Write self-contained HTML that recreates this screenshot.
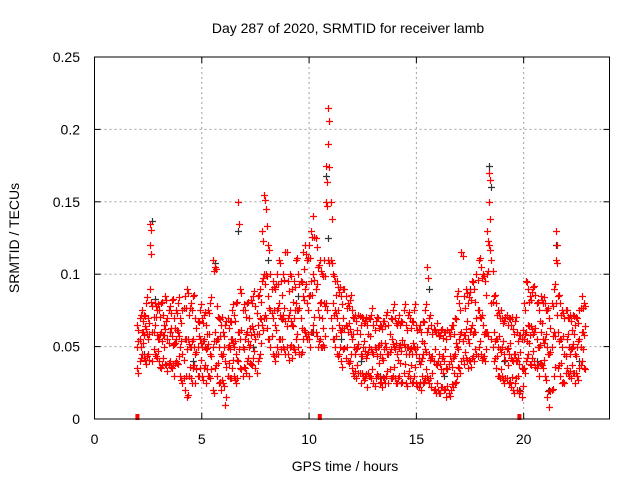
<!DOCTYPE html>
<html><head><meta charset="utf-8"><style>
body{margin:0;background:#fff;}
svg{display:block;font-family:"Liberation Sans",sans-serif;}
</style></head><body>
<svg id="chart" width="640" height="480">
<rect width="640" height="480" fill="#fff"/>
<text x="348" y="33" font-size="14" text-anchor="middle">Day 287 of 2020, SRMTID for receiver lamb</text>
<text x="345" y="471" font-size="14" text-anchor="middle">GPS time / hours</text>
<text transform="translate(19,238) rotate(-90)" font-size="14" text-anchor="middle">SRMTID / TECUs</text>
<g id="grid"></g>
<g id="marks"></g>
<g id="axes"></g>
</svg>
<script>
const xTicks=[0,5,10,15,20];
const yTicks=[0,0.05,0.1,0.15,0.2,0.25];
const yTickLabels=["0","0.05","0.1","0.15","0.2","0.25"];
const redStart=2.0, redStep=0.1;
const redA=[50,55,60,58,62,55,90,60,65,58, 55,60,58,62,55,60,57,52,55,60, 50,45,55,48,52,50,55,45,50,55, 50,55,48,52,45,50,60,55,50,45, 45,40,50,48,55,50,45,60,55,50, 55,60,50,58,62,55,65,70,95,100, 100,85,75,70,65,75,80,70,72,68, 70,75,65,70,80,75,70,85,90,80, 85,95,100,90,75,80,70,80,150,190, 110,80,75,70,65,60,70,65,60,62, 55,50,48,52,45,50,47,45,50,48, 45,48,50,45,42,48,50,45,48,52, 48,45,50,47,52,45,50,48,45,50, 45,42,40,45,48,60,45,42,40,38, 40,38,42,40,35,38,40,42,45,50, 55,60,58,62,55,60,65,60,70,75, 70,65,60,100,150,80,60,55,50,48, 50,45,48,45,42,40,45,40,38,35, 55,60,65,58,62,60,55,50,60,55, 55,50,45,50,60,110,60,55,50,45, 55,50,48,52,45,50,55,60,58];
const redB=[35,40,45,42,38,45,120,40,45,42, 40,35,42,38,33,40,35,30,40,38, 30,25,20,15,30,28,35,25,30,35, 30,35,25,30,28,20,35,30,25,20, 25,10,30,28,35,30,25,40,35,30, 35,40,30,38,42,35,40,45,65,70, 70,55,50,45,40,50,55,48,50,45, 45,50,42,48,55,50,45,55,60,55, 55,60,65,60,50,55,50,50,80,110, 70,55,50,45,45,40,48,42,40,40, 35,30,28,32,25,30,28,22,30,28, 25,28,30,25,22,28,30,25,28,30, 28,25,30,25,32,25,30,28,25,30, 25,22,20,25,28,30,25,22,20,18, 20,18,22,20,15,18,20,22,25,30, 35,40,38,42,35,40,42,40,45,50, 45,42,40,60,120,55,40,35,30,28, 30,25,28,25,22,20,25,20,18,15, 35,40,45,38,42,40,35,30,38,35, 30,15,8,20,30,80,35,30,25,25, 35,30,28,32,25,30,35,40,35];
const redC=[65,70,75,72,80,70,135,78,80,75, 75,80,72,85,70,78,82,70,75,80, 70,75,85,90,72,80,85,70,68,75, 70,72,65,75,80,110,105,78,70,65, 60,65,70,68,75,72,80,150,90,75, 75,80,70,82,85,78,85,90,130,155, 145,120,100,95,90,100,110,95,100,115, 95,100,90,95,110,100,95,115,120,110, 120,130,140,125,105,110,100,110,175,215, 150,100,95,95,88,85,90,85,80,82, 75,70,68,72,65,70,68,65,70,72, 65,68,70,65,62,68,72,65,70,75, 70,65,72,68,75,65,72,70,68,75, 65,62,60,68,75,105,70,65,62,60, 60,58,62,60,55,60,62,65,70,85, 80,115,85,90,80,88,95,90,100,110, 105,100,95,130,170,110,85,80,75,70, 70,68,72,70,65,62,68,60,58,55, 80,95,90,85,88,92,80,75,85,80, 80,75,70,80,90,130,85,80,75,70, 75,70,68,72,65,70,75,85,80];
const blackTimes=[2.3,2.7,2.8,3.5,4.6,5.6,6.2,6.7,7.4,8.1,8.8,9.5,10.2,10.8,10.9,11.5,12.4,13.3,14.2,15.1,15.6,16.3,17.5,18.2,18.4,18.5,19.1,19.8,20.6,21.2,21.5,22.1,22.6];
const blackVals=[0.045,0.137,0.083,0.06,0.04,0.108,0.03,0.13,0.05,0.11,0.07,0.085,0.06,0.168,0.125,0.055,0.04,0.03,0.05,0.04,0.09,0.03,0.09,0.06,0.175,0.16,0.04,0.02,0.04,0.02,0.12,0.05,0.04];
const markerTimes=[2.0,10.5,19.8];

const X0=94.5,X1=609.5,Y0=419,Y1=57,XMAX=24,YMAX=0.25;
const xs=t=>X0+(X1-X0)*t/XMAX;
const ys=v=>Y0-(Y0-Y1)*v/YMAX;
const NS="http://www.w3.org/2000/svg";
function mk(tag,parent,attrs){const e=document.createElementNS(NS,tag);for(const k in attrs)e.setAttribute(k,attrs[k]);parent.appendChild(e);return e;}
const grid=document.getElementById('grid'),marks=document.getElementById('marks'),axes=document.getElementById('axes');
xTicks.forEach(t=>{
  if(t>0){const l=mk('line',grid,{x1:xs(t),x2:xs(t),y1:Y1,y2:Y0,stroke:'#a0a0a0','stroke-dasharray':'2,3'});
  
  }
  const tx=mk('text',axes,{x:xs(t),y:444,'font-size':14,'text-anchor':'middle'});tx.textContent=t;
  
  
  mk('line',axes,{x1:xs(t),x2:xs(t),y1:Y0,y2:Y0-6,stroke:'#000'});
  mk('line',axes,{x1:xs(t),x2:xs(t),y1:Y1,y2:Y1+6,stroke:'#000'});
});
yTicks.forEach((v,i)=>{
  if(v>0&&v<YMAX){const l=mk('line',grid,{x1:X0,x2:X1,y1:ys(v),y2:ys(v),stroke:'#a0a0a0','stroke-dasharray':'2,3'});
  
  }
  const tx=mk('text',axes,{x:80,y:ys(v)+5,'font-size':14,'text-anchor':'end'});tx.textContent=yTickLabels[i];
  
  
  mk('line',axes,{x1:X0,x2:X0+6,y1:ys(v),y2:ys(v),stroke:'#000'});
  mk('line',axes,{x1:X1,x2:X1-6,y1:ys(v),y2:ys(v),stroke:'#000'});
});
function plus(t,v,c,name){
  const x=Math.round(xs(t))+0.5,y=Math.round(ys(v))+0.5;
  const p=mk('path',marks,{d:`M${x-3.5} ${y}H${x+3.5}M${x} ${y-3.5}V${y+3.5}`,stroke:c,'stroke-width':1.2,fill:'none'});
  
  
}
blackTimes.forEach((t,i)=>plus(t,blackVals[i],'#333','black-point'));
[redB,redA,redC].forEach((arr,k)=>arr.forEach((v,i)=>{
  const t=redStart+i*redStep;
  plus(t,v/1000,'#ff0000','red-point');
  plus(t+0.05,(v*0.9+((i*7+k*3)%5)*3)/1000,'#ff0000','red-point');
}));
markerTimes.forEach(t=>{
  const r=mk('rect',marks,{x:xs(t)-2,y:Y0-5,width:4,height:6,fill:'#ff0000'});
  
  
});
const b=mk('rect',axes,{x:X0,y:Y1,width:X1-X0,height:Y0-Y1,fill:'none',stroke:'#000'});


</script>
</body></html>
